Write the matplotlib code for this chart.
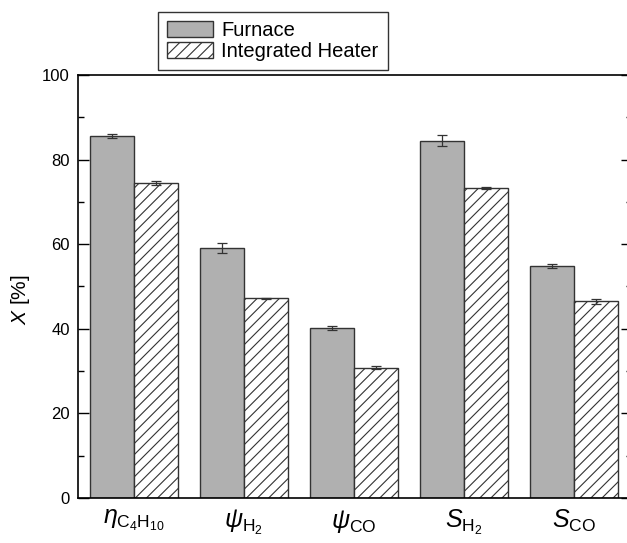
import matplotlib
matplotlib.use('Agg')
from matplotlib import pyplot as plt
from matplotlib.ticker import MultipleLocator
import numpy as np

# dados
categorias = [r'$\eta_{\mathrm{C_4H_{10}}}$', r'$\psi_{\mathrm{H_2}}$', r'$\psi_{\mathrm{CO}}$',
              r'$S_{\mathrm{H_2}}$', r'$S_{\mathrm{CO}}$']
furnace = [85.6, 59.0, 40.2, 84.5, 54.9]
furnace_err = [0.4, 1.2, 0.5, 1.3, 0.5]
heater = [74.5, 47.2, 30.8, 73.3, 46.5]
heater_err = [0.5, 0.1, 0.4, 0.2, 0.6]

plt.rcParams['font.family'] = ['Liberation Sans', 'DejaVu Sans']
plt.rcParams['mathtext.fontset'] = 'custom'
plt.rcParams['mathtext.rm'] = 'Liberation Sans'
plt.rcParams['mathtext.it'] = 'Liberation Sans:italic'
plt.rcParams['hatch.linewidth'] = 0.8

fig = plt.figure(figsize=(6.27, 5.43), dpi=100)
ax = fig.add_axes([0.1244, 0.0829, 0.8836, 0.779])

x = np.arange(len(categorias))
w = 0.4
err_kw = dict(ecolor='#333333', elinewidth=0.9, capsize=3.5, capthick=0.9)

ax.bar(x - w / 2, furnace, w, yerr=furnace_err, color='#b0b0b0', edgecolor='#333333',
       linewidth=1.0, error_kw=err_kw, label='Furnace')
ax.bar(x + w / 2, heater, w, yerr=heater_err, color='white', edgecolor='#333333',
       hatch='///', linewidth=1.0, error_kw=err_kw, label='Integrated Heater')

ax.set_xlim(-0.509, 4.527)
ax.set_ylim(0, 100)
ax.set_xticks(x)
ax.set_xticklabels(categorias, fontsize=18)
ax.tick_params(axis='x', length=0, pad=7)
ax.yaxis.set_major_locator(MultipleLocator(20))
ax.yaxis.set_minor_locator(MultipleLocator(10))
ax.tick_params(axis='y', which='major', direction='in', length=8, width=1.0,
               labelsize=12, pad=6, right=True)
ax.tick_params(axis='y', which='minor', direction='in', length=4, width=1.0, right=True)
for s in ax.spines.values():
    s.set_linewidth(1.2)

ax.set_ylabel(r'$X$ [%]', fontsize=15)
ax.yaxis.set_label_coords(-0.083, 0.47)

fig.legend(loc='upper left', bbox_to_anchor=(158 / 627, 1 - 12 / 543), fontsize=14.5,
           frameon=True, fancybox=False, edgecolor='#333333', framealpha=1,
           handlelength=2.3, handleheight=0.85, borderpad=0.45, labelspacing=0.1,
           handletextpad=0.4, borderaxespad=0)

plt.savefig('out.png', dpi=100)
